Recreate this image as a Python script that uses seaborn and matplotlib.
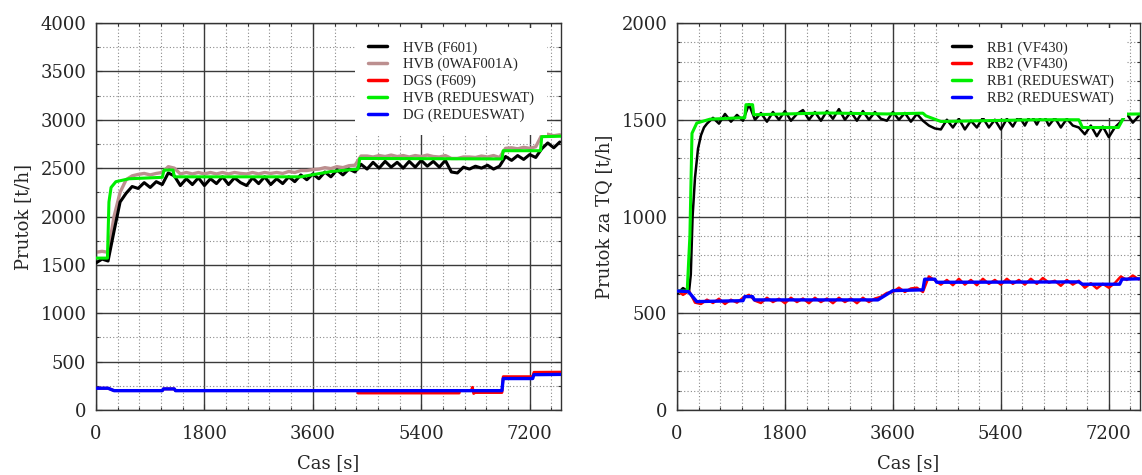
import numpy as np
import pandas as pd
import matplotlib
matplotlib.use("Agg")
import matplotlib.pyplot as plt
from matplotlib.ticker import MultipleLocator
import seaborn as sns

# ---------------- data ----------------
# Left chart: HVB / DG flows
t_noisy = list(range(0, 7800, 100))

hvb_f601 = [1520, 1560, 1540, 1850, 2150, 2240, 2310, 2290, 2350, 2300,
            2360, 2330, 2450, 2420, 2320, 2390, 2330, 2400, 2320, 2390,
            2340, 2410, 2330, 2400, 2350, 2320, 2400, 2340, 2410, 2330,
            2390, 2340, 2410, 2360, 2430, 2380, 2440, 2390, 2460, 2410,
            2480, 2430, 2490, 2460, 2540, 2490, 2560, 2500, 2570, 2510,
            2560, 2500, 2570, 2510, 2580, 2520, 2570, 2510, 2580, 2460,
            2450, 2510, 2490, 2520, 2500, 2530, 2490, 2520, 2620, 2580,
            2630, 2590, 2640, 2610, 2700, 2760, 2710, 2770]

hvb_0waf = [1630, 1640, 1630, 2000, 2250, 2380, 2420, 2435, 2445, 2430,
            2445, 2455, 2515, 2500, 2440, 2455, 2440, 2455, 2440, 2455,
            2440, 2455, 2440, 2455, 2445, 2440, 2455, 2440, 2455, 2445,
            2455, 2445, 2465, 2455, 2475, 2475, 2485, 2490, 2505, 2495,
            2515, 2505, 2525, 2530, 2625, 2625, 2615, 2630, 2620, 2635,
            2620, 2630, 2615, 2630, 2620, 2635, 2620, 2615, 2630, 2600,
            2600, 2615, 2615, 2610, 2625, 2615, 2630, 2610, 2705, 2710,
            2700, 2715, 2705, 2720, 2840, 2850, 2835, 2845]

t_dgs = [0, 200, 300, 1100, 1120, 1300, 1320, 4340, 4350, 6030, 6040,
         6230, 6250, 6270, 6290, 6740, 6760, 7250, 7270, 7720]
dgs_f609 = [225, 225, 200, 200, 218, 218, 200, 200, 175, 175, 200,
            200, 235, 170, 180, 180, 345, 345, 390, 392]

t_hvb_red = [0, 190, 215, 250, 330, 550, 1100, 1130, 1280, 1300, 3400,
             3900, 4250, 4350, 4380, 6740, 6760, 7380, 7400, 7720]
hvb_red = [1570, 1570, 2150, 2300, 2360, 2390, 2405, 2480, 2480, 2410, 2410,
           2465, 2485, 2490, 2600, 2595, 2680, 2680, 2825, 2830]

t_dg_red = [0, 200, 300, 1100, 1120, 1300, 1320, 6740, 6760, 7250, 7270, 7720]
dg_red = [225, 225, 200, 200, 218, 218, 200, 200, 325, 325, 365, 368]

# Right chart: RB1 / RB2 flows
t_rb1 = [0, 100, 200, 230, 260, 300, 350, 400, 450, 500] + list(range(600, 7800, 100))
rb1_vf430 = [600, 630, 610, 700, 1000, 1200, 1350, 1420, 1460, 1480,
             1510, 1480, 1530, 1490, 1525, 1495, 1580, 1500, 1535, 1490,
             1540, 1500, 1545, 1495, 1530, 1550, 1500, 1540, 1495, 1545,
             1505, 1555, 1500, 1540, 1495, 1545, 1500, 1540, 1505, 1495,
             1540, 1500, 1535, 1490, 1530, 1495, 1470, 1455, 1450, 1500,
             1460, 1505, 1450, 1495, 1460, 1510, 1460, 1500, 1450, 1505,
             1465, 1520, 1470, 1530, 1475, 1535, 1470, 1510, 1460, 1505,
             1470, 1460, 1425, 1470, 1415, 1465, 1410, 1460, 1490, 1530,
             1485, 1520]

rb2_vf430 = [620, 595, 615, 555, 548, 570, 553, 575, 548, 570,
             555, 580, 595, 565, 553, 580, 558, 575, 552, 580,
             558, 576, 552, 580, 558, 576, 552, 580, 558, 576,
             552, 580, 558, 576, 585, 605, 610, 632, 610, 628,
             632, 610, 690, 670, 648, 672, 645, 678, 648, 672,
             645, 678, 652, 672, 648, 678, 652, 672, 648, 678,
             652, 682, 658, 668, 642, 672, 648, 668, 632, 655,
             628, 652, 632, 656, 690, 672, 695, 675]

t_rb1_red = [0, 170, 215, 250, 330, 550, 1050, 1130, 1150, 1260, 1280, 2500,
             3500, 4100, 4150, 4400, 6000, 6700, 6760, 7360, 7480, 7720]
rb1_red = [615, 615, 900, 1430, 1483, 1503, 1510, 1510, 1578, 1578, 1526, 1535,
           1530, 1534, 1520, 1491, 1500, 1500, 1460, 1460, 1529, 1530]

t_rb2_red = [0, 190, 330, 600, 1100, 1130, 1260, 1290, 3350, 3600, 4100,
             4130, 4300, 4330, 6700, 6760, 7380, 7420, 7720]
rb2_red = [615, 612, 560, 562, 565, 586, 586, 569, 569, 617, 621,
           676, 676, 660, 662, 650, 650, 676, 678]

x_ticks = [0, 1800, 3600, 5400, 7200]

# ---------------- style ----------------
sns.set_theme(style="white")
plt.rcParams["font.family"] = ["DejaVu Serif"]

fig = plt.figure(figsize=(11.42, 4.75), dpi=100)
axL = fig.add_axes([96 / 1142, 65 / 475, 465 / 1142, 387 / 475])
axR = fig.add_axes([677 / 1142, 65 / 475, 463 / 1142, 387 / 475])


def line(ax, x, y, color, lw, label, z):
    sns.lineplot(x=x, y=y, ax=ax, color=color, linewidth=lw, label=label,
                 estimator=None, sort=False, zorder=z)


line(axL, t_noisy, hvb_f601, "black", 2.2, "HVB (F601)", 3)
line(axL, t_noisy, hvb_0waf, "#bc8f8f", 2.4, "HVB (0WAF001A)", 2)
line(axL, t_dgs, dgs_f609, "#ff0000", 2.0, "DGS (F609)", 4)
line(axL, t_hvb_red, hvb_red, "#00ee00", 2.2, "HVB (REDUESWAT)", 5)
line(axL, t_dg_red, dg_red, "#0000ff", 2.4, "DG (REDUESWAT)", 6)

line(axR, t_rb1, rb1_vf430, "black", 1.8, "RB1 (VF430)", 3)
line(axR, t_noisy, rb2_vf430, "#ff0000", 1.8, "RB2 (VF430)", 4)
line(axR, t_rb1_red, rb1_red, "#00ee00", 2.2, "RB1 (REDUESWAT)", 5)
line(axR, t_rb2_red, rb2_red, "#0000ff", 2.4, "RB2 (REDUESWAT)", 6)

for ax, ymax, ymaj, ymin, ylabel, anchor in [
    (axL, 4000, 500, 250, "Prutok [t/h]", (0.970, 0.987)),
    (axR, 2000, 500, 100, "Prutok za TQ [t/h]", (0.972, 0.987)),
]:
    ax.set_xlim(0, 7720)
    ax.set_ylim(0, ymax)
    ax.set_xticks(x_ticks)
    ax.xaxis.set_minor_locator(MultipleLocator(360))
    ax.yaxis.set_major_locator(MultipleLocator(ymaj))
    ax.yaxis.set_minor_locator(MultipleLocator(ymin))
    ax.grid(which="major", color="#3a3a3a", linewidth=1.0, linestyle="-")
    ax.grid(which="minor", color="#8a8a8a", linewidth=0.8, linestyle=(0, (1, 2)))
    ax.set_axisbelow(True)
    ax.tick_params(which="both", direction="in", top=True, right=True,
                   bottom=True, left=True, length=4, width=0.8, color="#333333")
    ax.tick_params(which="minor", length=2)
    ax.tick_params(axis="x", which="major", labelsize=13, pad=11)
    ax.tick_params(axis="y", which="major", labelsize=13, pad=7)
    for s in ax.spines.values():
        s.set_color("#333333")
        s.set_linewidth(1.0)
    ax.set_xlabel("Cas [s]", fontsize=13, labelpad=8)
    ax.set_ylabel(ylabel, fontsize=13, labelpad=6)
    leg = ax.legend(loc="upper right", bbox_to_anchor=anchor,
                    frameon=True, facecolor="white", edgecolor="none",
                    framealpha=1.0, fancybox=False,
                    borderpad=0.9, borderaxespad=0,
                    handlelength=1.3, handletextpad=1.1, labelspacing=0.23,
                    prop={"family": "Liberation Serif", "size": 10.5})
    leg.set_zorder(10)
    for h in leg.get_lines():
        h.set_linewidth(2.5)

fig.savefig("out.png", dpi=100)
